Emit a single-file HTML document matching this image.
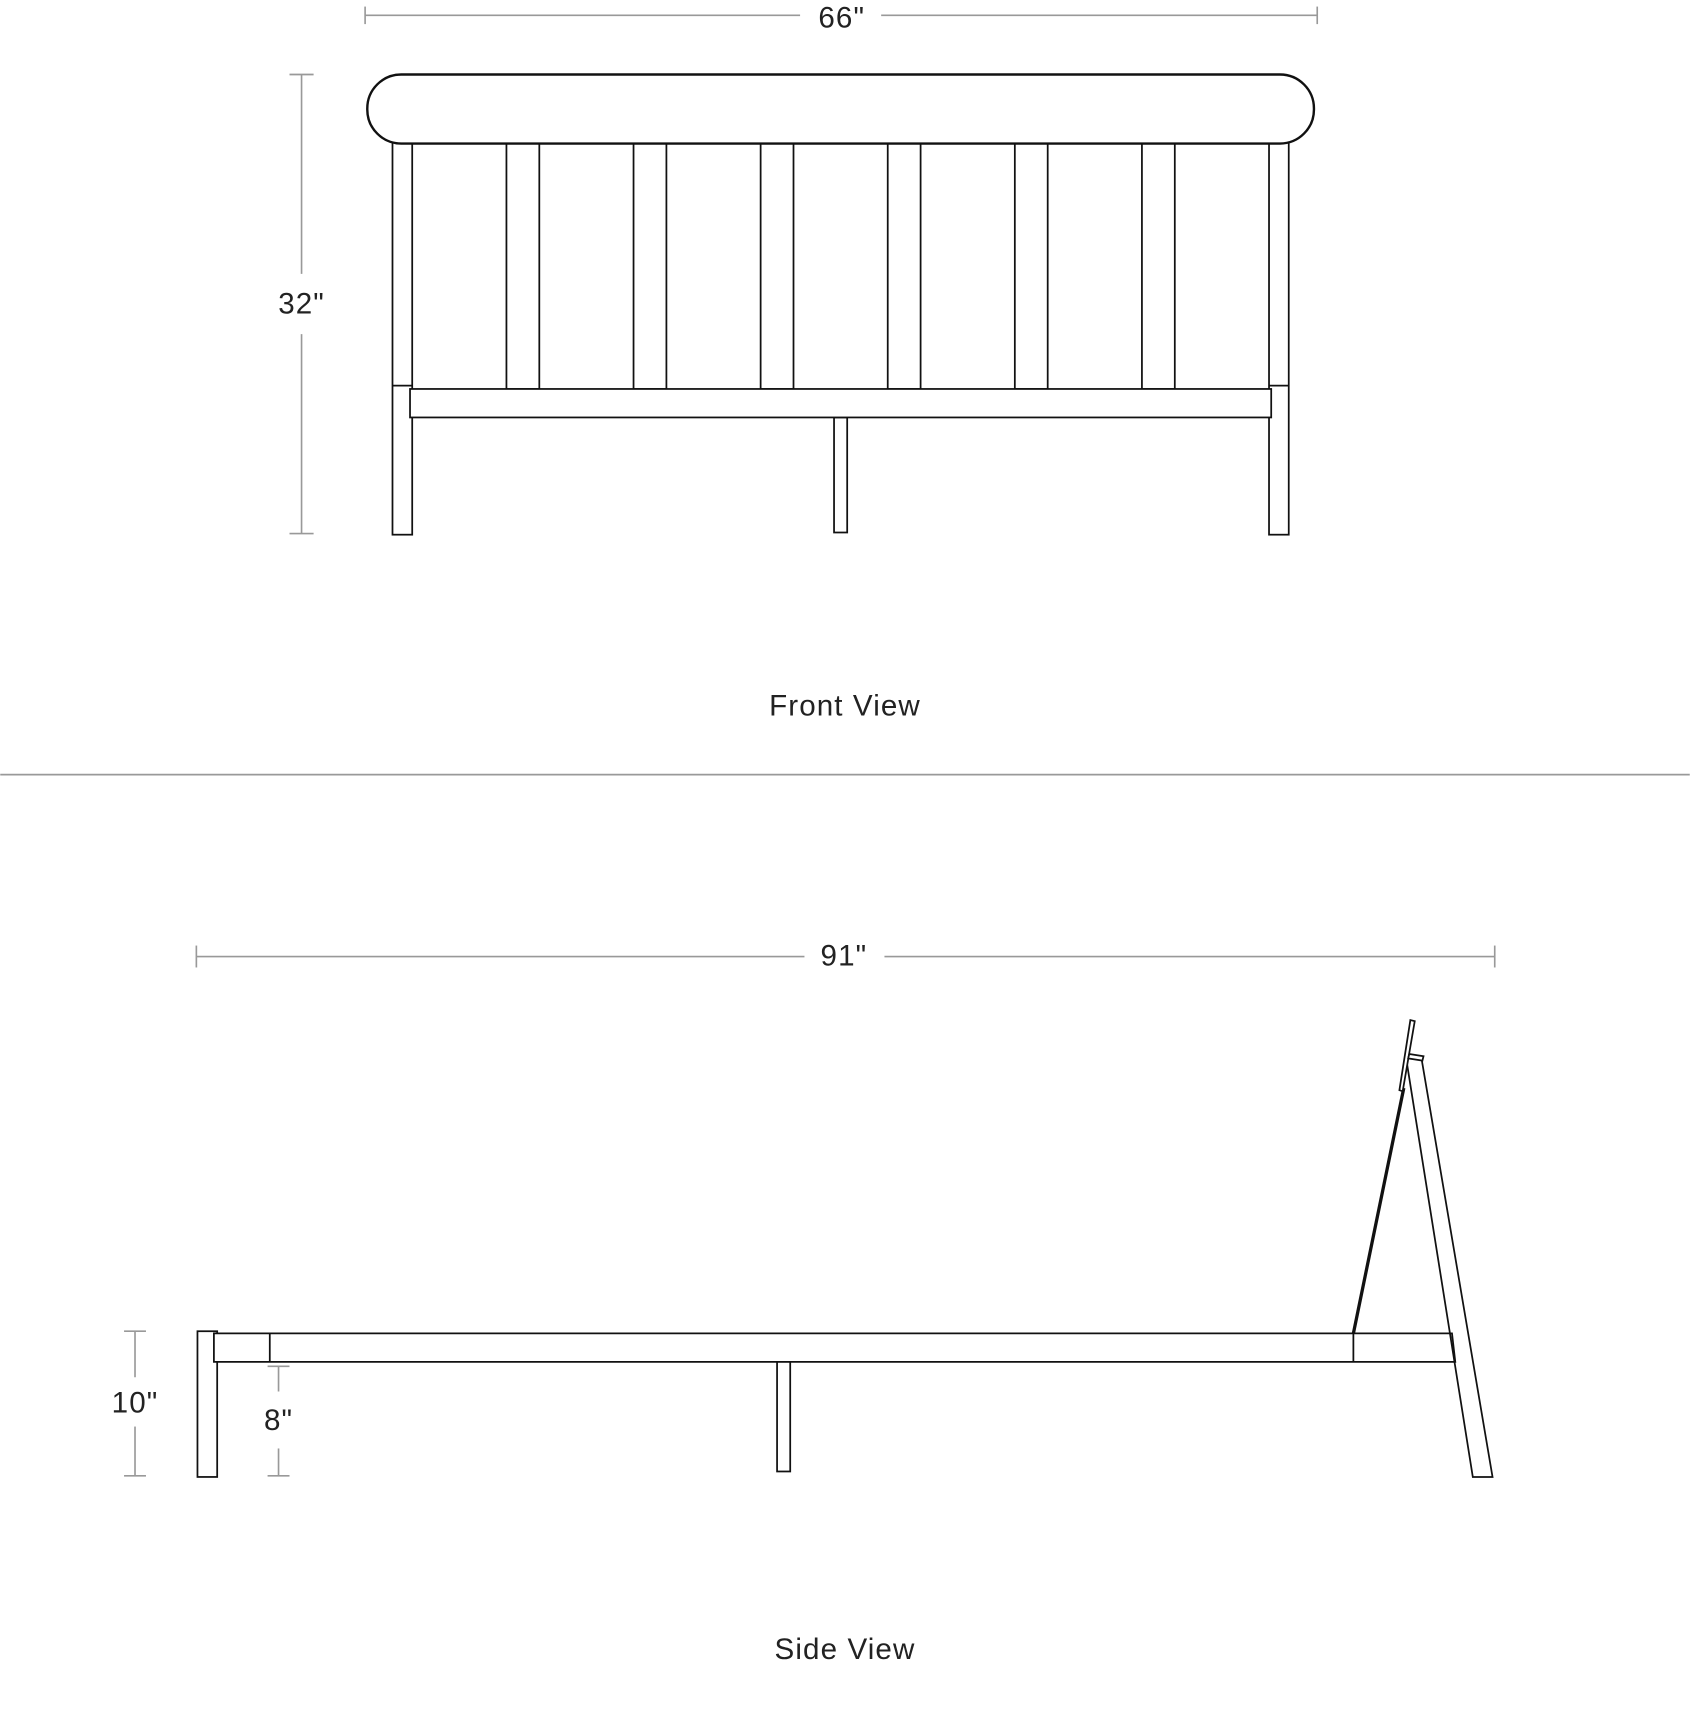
<!DOCTYPE html>
<html><head><style>html,body{margin:0;padding:0;background:#fff}svg{display:block}</style></head><body>
<svg width="1690" height="1718" viewBox="0 0 1542 1568" xmlns="http://www.w3.org/2000/svg" font-family="Liberation Sans, sans-serif">
<g stroke="#999" stroke-width="1.5" fill="none">
<line x1="333" y1="14" x2="730" y2="14"/><line x1="804" y1="14" x2="1202" y2="14"/>
<line x1="333" y1="6" x2="333" y2="22"/><line x1="1202" y1="6" x2="1202" y2="22"/>
<line x1="275" y1="68" x2="275" y2="250"/><line x1="275" y1="305" x2="275" y2="487"/>
<line x1="264" y1="68" x2="286" y2="68"/><line x1="264" y1="487" x2="286" y2="487"/>
<line x1="0" y1="707" x2="1542" y2="707"/>
<line x1="179" y1="873" x2="734" y2="873"/><line x1="807" y1="873" x2="1364" y2="873"/>
<line x1="179" y1="863" x2="179" y2="883"/><line x1="1364" y1="863" x2="1364" y2="883"/>
<line x1="123" y1="1215" x2="123" y2="1257"/><line x1="123" y1="1302" x2="123" y2="1347"/>
<line x1="113" y1="1215" x2="133" y2="1215"/><line x1="113" y1="1347" x2="133" y2="1347"/>
<line x1="254" y1="1247" x2="254" y2="1270"/><line x1="254" y1="1322" x2="254" y2="1347"/>
<line x1="244" y1="1247" x2="264" y2="1247"/><line x1="244" y1="1347" x2="264" y2="1347"/>
</g>
<g fill="#222" font-size="27" text-anchor="middle" letter-spacing="1">
<text x="768" y="25">66"</text>
<text x="275" y="286">32"</text>
<text x="771" y="653">Front View</text>
<text x="770" y="881">91"</text>
<text x="123" y="1289">10"</text>
<text x="254" y="1305">8"</text>
<text x="771" y="1514">Side View</text>
</g>
<g stroke="#111" stroke-width="1.6" fill="#fff">
<rect x="358" y="128" width="18" height="360"/>
<rect x="1158" y="128" width="18" height="360"/>
<rect x="462" y="131" width="30" height="224"/>
<rect x="578" y="131" width="30" height="224"/>
<rect x="694" y="131" width="30" height="224"/>
<rect x="810" y="131" width="30" height="224"/>
<rect x="926" y="131" width="30" height="224"/>
<rect x="1042" y="131" width="30" height="224"/>
<rect x="761" y="381" width="12" height="105"/>
<line x1="358" y1="352" x2="376" y2="352"/>
<line x1="1158" y1="352" x2="1176" y2="352"/>
<rect x="374" y="355" width="786" height="26"/>
<rect x="335" y="68" width="864" height="63" rx="31" stroke-width="2.2"/>
<rect x="180" y="1215" width="18" height="133"/>
<polygon points="195,1217 1325,1217 1328,1243 195,1243"/>
<line x1="246" y1="1217" x2="246" y2="1243"/>
<line x1="1235" y1="1217" x2="1235" y2="1243"/>
<rect x="709" y="1243" width="12" height="100"/>
<polygon points="1283,965 1297,965 1362,1348 1344,1348" fill="none"/>
<line x1="1235" y1="1217" x2="1281" y2="993" stroke-width="3"/>
<polygon points="1287,931 1291,932 1280,996 1277,995"/>
<polygon points="1286,962 1299,964 1298,968 1285,966"/>
</g>
</svg>
</body></html>
